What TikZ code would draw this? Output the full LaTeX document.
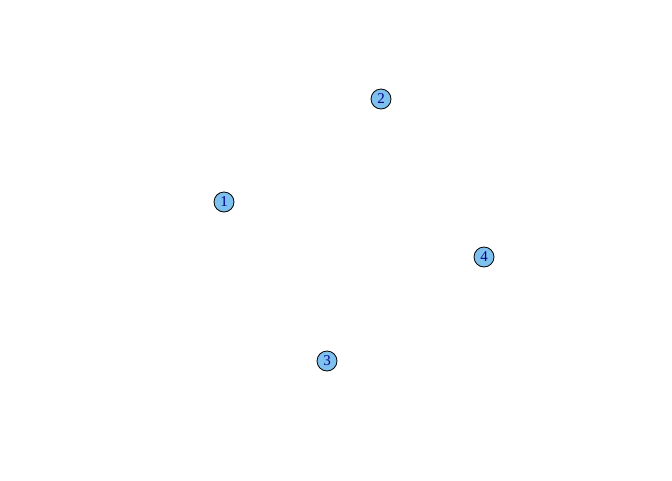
\documentclass[tikz,border=0pt]{standalone}
\usepackage{fontspec}
\setmainfont{Liberation Serif}
\definecolor{skyblue}{HTML}{7EC0EE}
\definecolor{labelblue}{HTML}{00008B}
\begin{document}
\begin{tikzpicture}[x=1pt,y=-1pt,
    vertex/.style={shape=circle,draw=black,fill=skyblue,text=labelblue,line width=0.8pt,
      minimum size=20pt,inner sep=0pt,font=\fontsize{15}{15}\selectfont}]
      \useasboundingbox (0,0) rectangle (672,480);

      \node[vertex] (V1) at (224,202) {1};
      \node[vertex] (V2) at (381,99) {2};
      \node[vertex] (V3) at (327,361) {3};
      \node[vertex] (V4) at (484,257) {4};
  \end{tikzpicture}
\end{document}
